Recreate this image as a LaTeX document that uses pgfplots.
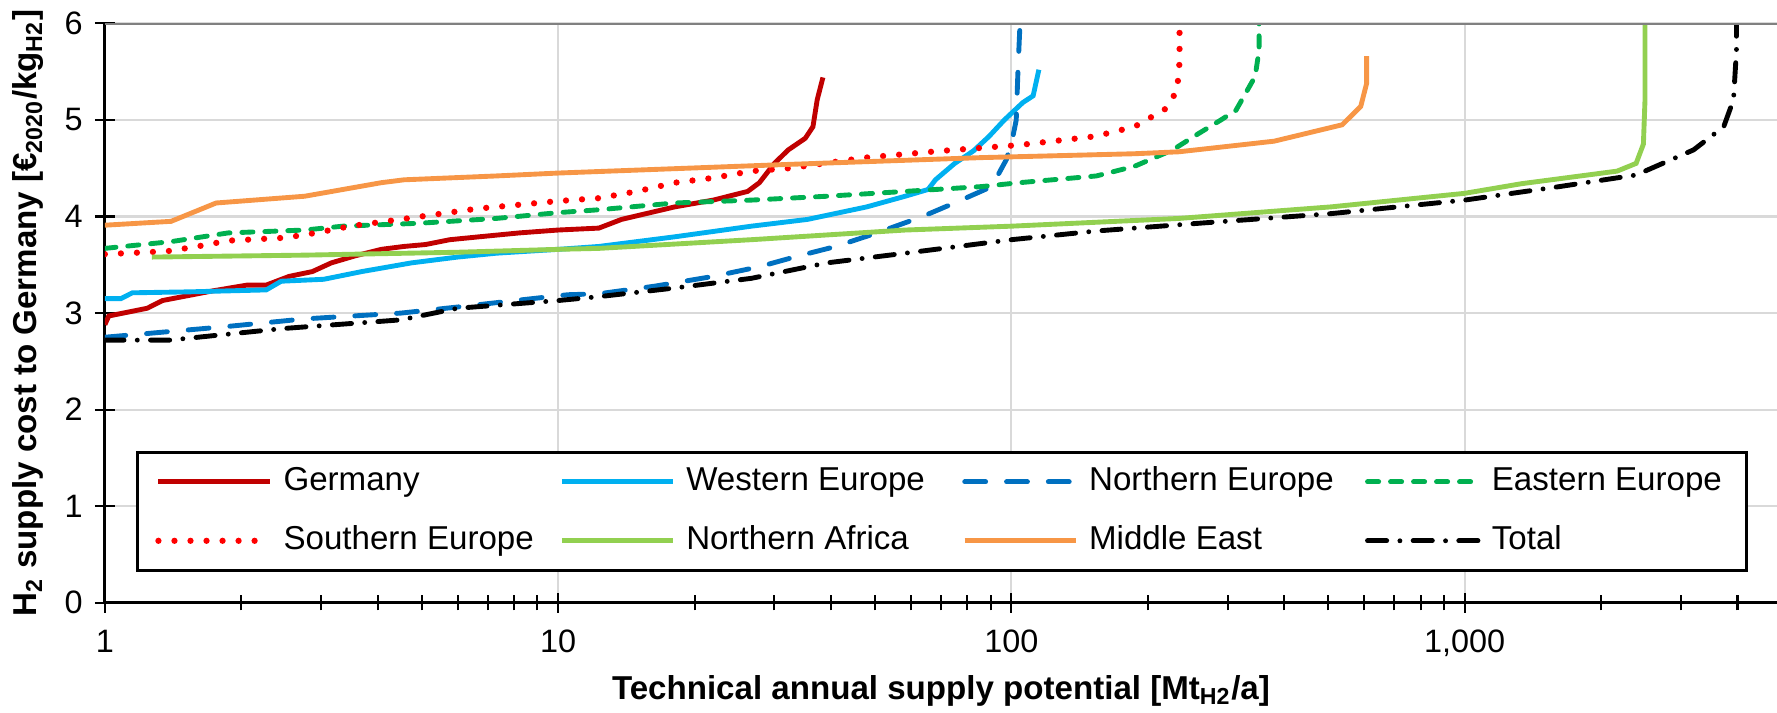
\documentclass[border=0pt]{standalone}
\usepackage{pgfplots}
\pgfplotsset{compat=1.18}
\usepackage{fontspec}
\setmainfont{Liberation Sans}

\definecolor{cGermany}{HTML}{C00000}
\definecolor{cWestern}{HTML}{00B0F0}
\definecolor{cNorthern}{HTML}{0070C0}
\definecolor{cEastern}{HTML}{00B050}
\definecolor{cSouthern}{HTML}{FF0000}
\definecolor{cAfrica}{HTML}{92D050}
\definecolor{cMiddle}{HTML}{F79646}
\definecolor{gridgray}{HTML}{D9D9D9}

\begin{document}
\begin{tikzpicture}
\useasboundingbox (-30.1pt,-31.6pt) rectangle (479.9pt,173.0pt);
\begin{axis}[
    scale only axis,
    width=479.9pt, height=166.3pt,
    xmode=log,
    xmin=1, xmax=4890,
    ymin=0, ymax=6,
    axis x line*=bottom,
    axis y line*=left,
    axis line style={black, line width=0.8pt},
    xtick={1,10,100,1000},
    xticklabels={1,10,100,{1,000}},
    minor xtick={2,3,4,5,6,7,8,9,20,30,40,50,60,70,80,90,200,300,400,500,600,700,800,900,2000,3000,4000},
    ytick={0,1,2,3,4,5,6},
    tick align=center,
    major tick length=5.7pt,
    minor tick length=4.3pt,
    tick style={black, line width=0.6pt},
    xmajorgrids, ymajorgrids,
    major grid style={gridgray, line width=0.6pt},
    /pgf/number format/assume math mode=true,
    ticklabel style={font=\fontsize{9.3}{10}\selectfont},
    xticklabel style={yshift=-1.5pt},
    xlabel={\textbf{Technical annual supply potential [Mt\textsubscript{H2}/a]}},
    ylabel={\textbf{H\textsubscript{2} supply cost to Germany [€\textsubscript{2020}/kg\textsubscript{H2}]}},
    label style={font=\fontsize{9.5}{11}\selectfont},
    xlabel style={at={(rel axis cs:0.5,0)}, anchor=center, yshift=-25.3pt},
    ylabel style={at={(rel axis cs:0,0.5)}, anchor=center, yshift=22pt},
    legend columns=4,
    legend style={at={(rel axis cs:0.0189,0.0535)}, anchor=south west,
        draw=black, line width=0.8pt, fill=white,
        font=\fontsize{9.5}{11}\selectfont,
        inner xsep=5pt, inner ysep=4pt,
        nodes={inner sep=0pt, anchor=west, text height=7pt, text depth=2pt},
        /tikz/every odd column/.append style={column sep=3pt},
        /tikz/every even column/.append style={column sep=0pt},
        row sep=7.9pt},
    legend image code/.code={\draw[#1] (0pt,0pt) -- (32pt,0pt);},
    every axis plot/.append style={line width=1.4pt},
]

% Germany
\addplot[cGermany] coordinates {
(1,2.88) (1.02,2.97) (1.24,3.05) (1.34,3.13) (1.73,3.23) (2.06,3.29) (2.27,3.29)
(2.55,3.38) (2.87,3.43) (3.16,3.52) (3.55,3.59) (4.07,3.66) (4.57,3.69) (5.1,3.71)
(5.77,3.76) (6.7,3.79) (8.2,3.83) (10,3.86) (12.3,3.88) (13.8,3.97) (18.1,4.10)
(22,4.17) (26.2,4.26) (27.8,4.35) (30,4.55) (32.2,4.69) (35.1,4.81) (36.5,4.93)
(37.3,5.21) (38.4,5.44)
};

% Western Europe
\addplot[cWestern] coordinates {
(1,3.15) (1.085,3.15) (1.15,3.21) (1.54,3.22) (2.27,3.24) (2.45,3.33) (3.04,3.35)
(3.69,3.43) (4.75,3.52) (6.0,3.58) (7.3,3.62) (10,3.66) (12.3,3.69) (18.1,3.79)
(26.7,3.90) (35.5,3.97) (48,4.10) (58.3,4.21) (65.5,4.28) (68,4.38) (75,4.55)
(82.5,4.68) (89.3,4.83) (96.5,5.0) (106,5.18) (111.7,5.25) (115,5.52)
};

% Northern Europe
\addplot[cNorthern, line cap=round, dash pattern=on 6pt off 6pt] coordinates {
(1,2.75) (1.85,2.86) (2.76,2.94) (4.5,3.0) (6.2,3.07) (8.4,3.14) (10.5,3.19)
(12.3,3.2) (16.4,3.28) (22,3.38) (27.8,3.48) (33.8,3.59) (41,3.69) (50.5,3.83)
(63.7,4.0) (77.5,4.17) (90.5,4.31) (97.5,4.59) (100.5,4.80) (102.5,5.0)
(103.5,5.56) (104.5,6.0)
};

% Eastern Europe
\addplot[cEastern, line cap=round, dash pattern=on 3.2pt off 3.4pt] coordinates {
(1,3.67) (1.40,3.74) (1.87,3.83) (2.76,3.86) (3.35,3.9) (4.93,3.93) (7.3,3.98)
(10,4.04) (12.3,4.07) (18.1,4.14) (26.7,4.17) (39.2,4.21) (58.3,4.26) (86,4.31)
(104,4.35) (154,4.42) (187,4.52) (227,4.69) (259,4.86) (290,5.0) (313,5.1)
(345,5.45) (352,5.72) (352,6.0)
};

% Southern Europe
\addplot[cSouthern, line width=1.8pt, line cap=round, dash pattern=on 0pt off 4.6pt] coordinates {
(1,3.61) (1.37,3.64) (1.6,3.69) (1.87,3.75) (2.5,3.78) (2.92,3.83) (3.48,3.9)
(4.48,3.97) (6.6,4.08) (10,4.16) (12.3,4.19) (14.9,4.26) (18.1,4.35) (22,4.40)
(26.7,4.47) (32.4,4.50) (47.7,4.61) (70.3,4.68) (104,4.74) (153,4.83) (187,4.93)
(218,5.11) (232,5.3) (235,5.6) (235,6.0)
};

% Northern Africa
\addplot[cAfrica] coordinates {
(1.27,3.58) (2.76,3.60) (6.0,3.63) (10,3.66) (12.3,3.67) (26.7,3.76) (58.3,3.86)
(100,3.90) (234,3.98) (508,4.10) (1000,4.24) (1336,4.34) (2170,4.47) (2390,4.55)
(2480,4.75) (2500,5.2) (2500,6.0)
};

% Middle East
\addplot[cMiddle] coordinates {
(1,3.91) (1.40,3.95) (1.76,4.14) (2.76,4.21) (4.07,4.35) (4.57,4.38) (7.3,4.42)
(10,4.45) (32.4,4.54) (86,4.61) (187,4.65) (234,4.67) (380,4.78) (537,4.95)
(590,5.14) (608,5.38) (608,5.66)
};

% Total
\addplot[black, line cap=round, dash pattern=on 5.5pt off 3.8pt on 0pt off 3.8pt] coordinates {
(1,2.72) (1.39,2.72) (2.47,2.84) (4.5,2.93) (6.0,3.05) (10,3.13) (12.3,3.17)
(18.1,3.26) (26.7,3.36) (39.2,3.52) (58.3,3.62) (100,3.76) (154,3.85) (259,3.93)
(508,4.03) (1000,4.17) (1620,4.31) (2390,4.43) (3200,4.69) (3730,4.93)
(3920,5.21) (3980,5.72) (3980,6.0)
};

\draw[gray, line width=0.9pt] (rel axis cs:0,1) -- (rel axis cs:1,1);

\legend{
\makebox[79.2pt][l]{Germany}, \makebox[79.2pt][l]{Western Europe},
\makebox[79.2pt][l]{Northern Europe}, \makebox[68pt][l]{Eastern Europe},
\makebox[79.2pt][l]{Southern Europe}, \makebox[79.2pt][l]{Northern Africa},
\makebox[79.2pt][l]{Middle East}, \makebox[68pt][l]{Total}}
\end{axis}
\end{tikzpicture}
\end{document}
